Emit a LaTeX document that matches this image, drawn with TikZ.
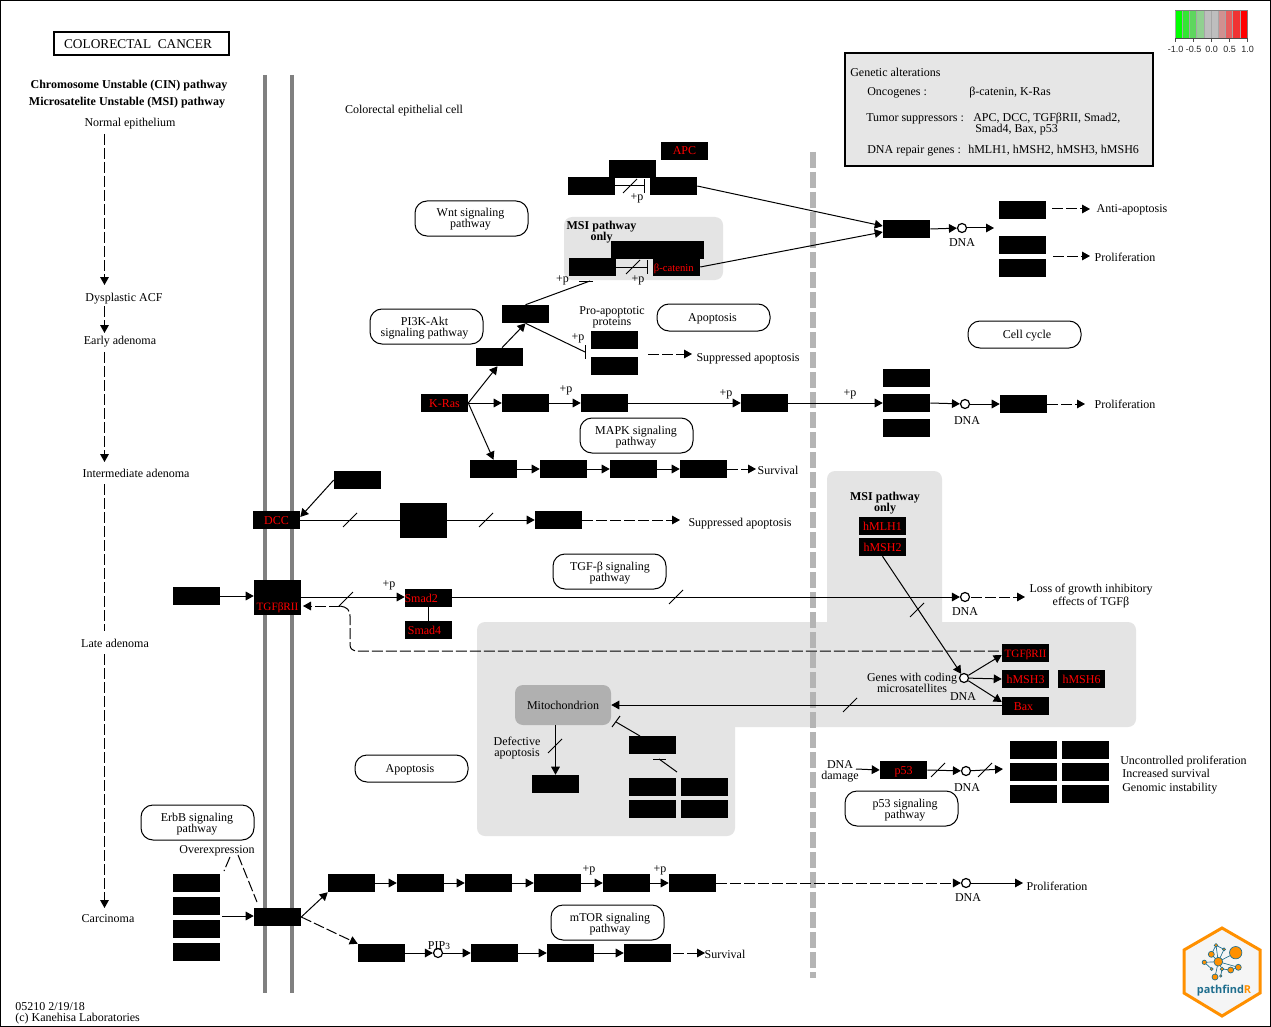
\documentclass[tikz,border=0pt]{standalone}
\usepackage{fontspec}
\setmainfont{Liberation Serif}
\newfontfamily\hvsans{Liberation Sans}
\newfontfamily\logofont{Open Sans}
\usetikzlibrary{arrows.meta,calc}
\definecolor{regiongray}{HTML}{E4E4E4}
\definecolor{legendgray}{HTML}{E6E6E6}
\definecolor{membrane}{HTML}{808080}
\definecolor{nucleus}{HTML}{B4B4B4}
\definecolor{mito}{HTML}{B0B0B0}
\definecolor{logoorange}{HTML}{FF9000}
\definecolor{logoblue}{HTML}{1F6E8E}
\tikzset{
 gn/.style={rectangle,fill=black,text=red,minimum width=35.25pt,minimum height=13.5pt,inner sep=0pt,text height=6pt,text depth=0pt,font=\fontsize{9}{8.25}\selectfont},
 gntall/.style={gn,minimum height=26.25pt},
 lbl/.style={inner sep=0pt,align=center,text height=6pt,text depth=0pt,font=\fontsize{9}{8.25}\selectfont},
 lbll/.style={lbl,anchor=west,align=left},
 blbl/.style={lbl,font=\bfseries\fontsize{9}{8.25}\selectfont},
 ovalbox/.style={rectangle,draw=black,fill=white,line width=.75pt,rounded corners=9pt,minimum width=84.75pt,inner sep=0pt},
 cir/.style={circle,draw=black,fill=white,line width=.9pt,minimum size=6.75pt,inner sep=0pt},
 arr/.style={line width=.75pt,-{Triangle[length=6pt,width=6.5pt]}},
 darr/.style={arr,dash pattern=on 8.25pt off 2.25pt},
 ln/.style={line width=.75pt},
 dln/.style={ln,dash pattern=on 8.25pt off 2.25pt},
 inh/.style={line width=.75pt,-{Bar[width=10.5pt,length=.75pt]}},
 slash/.style={line width=.6pt},
 region/.style={fill=regiongray,rounded corners=6pt},
}
\newcommand{\bx}[4]{\node[gn] (#1) at (#2,#3) {#4};}
\newcommand{\lb}[4]{\node[lbl] (#1) at (#2,#3) {#4};}
\newcommand{\lbw}[4]{\node[lbll] (#1) at (#2,#3) {#4};}
\newcommand{\ov}[6]{\node[ovalbox,minimum height=#4*.75pt] (#1) at (#2,#3) {};\node[lbl] (#1t) at (#5,#3) {#6};}
\newcommand{\ovv}[6]{\node[ovalbox,minimum height=#4*.75pt] (#1) at (#2,#3) {};\node[lbl] (#1t) at (#5,#3+5.5) {#6};}
\newcommand{\slmk}[2]{\draw[slash] (#1-7,#2+7) -- (#1+7,#2-7);}
\begin{document}
\begin{tikzpicture}[x=.75pt,y=-.75pt]
\useasboundingbox (0,0) rectangle (1271,1027);
\fill[white] (0,0) rectangle (1271,1027);
\draw[line width=.75pt] (.5,.5) rectangle (1270.5,1026.5);
% regions
\fill[region] (564,217) rectangle (723,280);
\fill[region] (827,471) rectangle (942,650);
\fill[region] (477,622) rectangle (1136,727);
\fill[region] (477,690) rectangle (735,836);
% membranes
\draw[membrane,line width=3.2pt] (265,75) -- (265,993);
\draw[membrane,line width=3.2pt] (292,75) -- (292,993);
\draw[nucleus,line width=4.5pt,dash pattern=on 12pt off 3pt] (813,152) -- (813,978);
% title
\node[rectangle,draw,line width=1.5pt,minimum width=131.25pt,minimum height=17.25pt,inner sep=0pt,font=\fontsize{10}{10}\selectfont] (title) at (141,44) {\hspace*{-4.5pt}COLORECTAL\ \ CANCER};
\node[blbl] (cin) at (129,85) {Chromosome Unstable (CIN) pathway};
\node[blbl] (msi) at (127,102) {Microsatelite Unstable (MSI) pathway};
\lb{cell}{404}{110}{Colorectal epithelial cell}
% left stages
\lb{s1}{130}{123}{Normal epithelium}
\lb{s2}{124}{297}{Dysplastic ACF}
\lb{s3}{120}{340}{Early adenoma}
\lb{s4}{136}{473}{Intermediate adenoma}
\lb{s5}{115}{643}{Late adenoma}
\lb{s6}{108}{918}{Carcinoma}
\coordinate (a1) at (104.5,134); \coordinate (a2) at (104.5,285);
\coordinate (a3) at (104.5,306); \coordinate (a4) at (104.5,333);
\coordinate (a5) at (104.5,352); \coordinate (a6) at (104.5,462);
\coordinate (a7) at (104.5,484); \coordinate (a8) at (104.5,631);
\coordinate (a9) at (104.5,654); \coordinate (a10) at (104.5,908);
\draw[darr] (a1) -- (a2);
\draw[darr] (a3) -- (a4);
\draw[darr] (a5) -- (a6);
\draw[dln] (a7) -- (a8);
\draw[darr] (a9) -- (a10);
% legend
\node[rectangle,draw,fill=legendgray,line width=1.5pt,minimum width=231pt,minimum height=84.75pt,inner sep=0pt] (legend) at (999,109.5) {};
\lbw{g1}{850}{73}{Genetic alterations}
\lbw{g2}{867}{92}{Oncogenes :}
\lbw{g3}{969}{92}{β-catenin, K-Ras}
\lbw{g4}{866}{118}{Tumor suppressors :}
\lbw{g5}{973}{118}{APC, DCC, TGFβRII, Smad2,}
\lbw{g6}{975}{129}{Smad4, Bax, p53}
\lbw{g7}{867}{150}{DNA repair genes :}
\lbw{g8}{968}{150}{hMLH1, hMSH2, hMSH3, hMSH6}
% pathway boxes
\ovv{wnt}{471.5}{218.5}{35}{470.5}{Wnt signaling\\pathway}
\ovv{pi3k}{426.5}{326.5}{35}{424.5}{PI3K-Akt\\signaling pathway}
\ov{apo1}{713.5}{317.5}{27}{712.5}{Apoptosis}
\ov{cc}{1024.5}{334.5}{27}{1027}{Cell cycle}
\ovv{mapk}{636.5}{435.5}{35}{636}{MAPK signaling\\pathway}
\ovv{tgfp}{609.5}{571.5}{35}{610}{TGF-β signaling\\pathway}
\ov{apo2}{411.5}{768.5}{27}{410}{Apoptosis}
\ovv{erbb}{197.5}{822.5}{35}{197}{ErbB signaling\\pathway}
\ovv{p53p}{901.5}{808.5}{35}{905}{p53 signaling\\pathway}
\ovv{mtor}{607.5}{922.5}{35}{610}{mTOR signaling\\pathway}
% upper genes
\bx{apc}{684.5}{151}{APC}
\bx{u1}{632.5}{169}{}
\bx{u2}{591.5}{186}{}
\bx{u3}{673.5}{186}{}
\node[blbl] (msi1) at (601.5,236) {MSI pathway\\only};
\bx{m1}{634.5}{250}{}
\bx{m2}{680.5}{250}{}
\bx{m3}{592.5}{267}{}
\bx{bcat}{676.5}{267}{\hspace*{-4pt}{\fontsize{8}{8}\selectfont β-catenin}}
\bx{w1}{906.5}{229}{}
\node[cir] (d1) at (962,228) {};
\lb{dna1}{962}{243}{DNA}
\bx{r1}{1022.5}{210}{}
\bx{r2}{1022.5}{245}{}
\bx{r3}{1022.5}{268}{}
\lb{antia}{1132}{209}{Anti-apoptosis}
\lb{prol1}{1125}{258}{Proliferation}
\coordinate (b1) at (1052,209); \coordinate (b2) at (1090,209);
\coordinate (b3) at (1053,256); \coordinate (b4) at (1090,256);
\coordinate (b0) at (645,186);
\draw[inh] (u2.east) -- (b0);
\slmk{630}{186}
\lb{p1}{637}{196}{+p}
\draw[inh] (m3.east) -- ($(bcat.west)+(-5,0)$);
\slmk{633}{267}
\lb{p2}{638}{278}{+p}
\draw[arr] (u3.east) -- ($(w1.west)+(0,-3)$);
\draw[arr] (bcat.east) -- ($(w1.west)+(0,3)$);
\draw[arr] (w1.east) -- (d1);
\coordinate (b5) at (994,228);
\draw[arr] (d1) -- (b5);
\draw[darr] (b1) -- (b2);
\draw[darr] (b3) -- (b4);
% PI3K branch
\bx{k1}{525.5}{314}{}
\bx{k2}{499.5}{357}{}
\bx{pa1}{614.5}{340}{}
\bx{pa2}{614.5}{366}{}
\lb{pap}{612}{321}{Pro-apoptotic\\proteins}
\lb{p3}{562.5}{278}{+p}
\lb{p4}{578}{336}{+p}
\lb{sa1}{748}{357}{Suppressed apoptosis}
\coordinate (c1) at (590,281);
\coordinate (c2) at (585,352);
\draw[ln] (k1.north) -- (c1);
\draw[ln] (579,281) -- (593,281);
\draw[ln] (k1.south) -- (c2);
\draw[ln] (585,345) -- (585,359);
\draw[arr] ($(k2.north)+(2.5,0)$) -- (k1.south);
\coordinate (c3) at (648,354); \coordinate (c4) at (692,354);
\draw[darr] (c3) -- (c4);
% K-Ras row
\bx{kras}{444.5}{403}{K-Ras}
\bx{k3}{525.5}{403}{}
\bx{k4}{604.5}{403}{}
\bx{k5}{764.5}{403}{}
\bx{n1}{906.5}{378}{}
\bx{n2}{906.5}{403}{}
\bx{n3}{906.5}{428}{}
\node[cir] (d2) at (965,404) {};
\lb{dna2}{967}{420}{DNA}
\bx{n4}{1023.5}{404}{}
\lb{prol2}{1125}{404}{Proliferation}
\lb{p5}{566}{388}{+p}
\lb{p6}{726}{392}{+p}
\lb{p7}{850}{392}{+p}
\coordinate (c5) at (1047,404); \coordinate (c6) at (1085,404);
\draw[arr] (kras.east) -- ($(k2.south)+(-2,0)$);
\draw[arr] (kras.east) -- (k3.west);
\draw[arr] (k3.east) -- (k4.west);
\draw[arr] (k4.east) -- (k5.west);
\draw[arr] (k5.east) -- (n2.west);
\draw[arr] (n2.east) -- (d2);
\draw[arr] (d2) -- (n4.west);
\draw[darr] (c5) -- (c6);
\bx{q1}{493.5}{469}{}
\bx{q2}{563.5}{469}{}
\bx{q3}{633.5}{469}{}
\bx{q4}{703.5}{469}{}
\lb{surv1}{778}{470}{Survival}
\coordinate (c7) at (727,469); \coordinate (c8) at (756,469);
\draw[arr] (kras.east) -- (q1.north);
\draw[arr] (q1.east) -- (q2.west);
\draw[arr] (q2.east) -- (q3.west);
\draw[arr] (q3.east) -- (q4.west);
\draw[darr] (c7) -- (c8);
% DCC
\bx{dcc}{276.5}{520}{DCC}
\bx{dc1}{357.5}{480}{}
\node[gntall] (dc2) at (423.5,520.5) {};
\bx{dc3}{558.5}{520}{}
\lb{sa2}{740}{522}{Suppressed apoptosis}
\coordinate (e1) at (582,520); \coordinate (e2) at (680,520);
\draw[arr] (dc1.west) -- ($(dcc.east)+(0,-3)$);
\draw[ln] (dcc.east) -- (dc2.west |- dcc.east);
\draw[arr] (dc2.east |- dc3.west) -- (dc3.west);
\draw[darr] (e1) -- (e2);
\slmk{350}{520}
\slmk{486}{520}
% TGFb
\node[gntall] (tgf) at (277.5,597.5) {};
\node[gn,fill=none] (tgft) at (277.5,606) {{\fontsize{8.4}{8}\selectfont TGFβRII}};
\bx{tg0}{196.5}{596}{}
\bx{smad2}{428.5}{598}{\hspace*{-11pt}Smad2}
\bx{smad4}{428.5}{630}{\hspace*{-6pt}Smad4}
\node[cir] (d3) at (965,597) {};
\lb{dna3}{965}{611}{DNA}
\lb{p8}{389}{583}{+p}
\lb{lossg}{1091}{601}{Loss of growth inhibitory\\effects of TGFβ}
\coordinate (f1) at (971,597); \coordinate (f2) at (1025,597);
\draw[arr] (tg0.east) -- (tgf.west |- tg0.east);
\draw[arr] (tgf.east |- d3) -- (smad2.west |- d3);
\draw[ln] (smad2.south) -- (smad4.north);
\draw[arr] (smad2.east |- d3) -- (d3);
\draw[darr] (f1) -- (f2);
\slmk{346}{599}
\slmk{676}{597}
% MSI block
\node[blbl] (msi2) at (885,507) {MSI pathway\\only};
\bx{mlh1}{882.5}{526}{hMLH1}
\bx{msh2}{882.5}{547}{hMSH2}
\node[cir] (d4) at (964,678) {};
\lb{dna4}{963}{696}{DNA}
\lb{gwc}{912}{688}{Genes with coding\\microsatellites}
\bx{tgf2}{1025.5}{653}{{\fontsize{8.4}{8}\selectfont TGFβRII}}
\bx{msh3}{1025.5}{679}{hMSH3}
\bx{msh6}{1081.5}{679}{hMSH6}
\bx{bax}{1025.5}{706}{\hspace*{-3pt}Bax}
\draw[arr] (msh2.south) -- (d4);
\slmk{917}{610}
\draw[arr] (d4) -- ($(tgf2.west)+(0,2)$);
\draw[arr] (d4) -- (msh3.west);
\draw[arr] (d4) -- ($(bax.west)+(0,-4)$);
% feedback dashed
\coordinate (f3) at (340,606);
\coordinate (f4) at (303,606);
\coordinate (f5) at (350,645);
\coordinate (f6) at (1002,651);
\draw[darr] (f3) -- (f4);
\draw[dln] (f3) .. controls (347,607) and (350,610) .. (350,616) -- (f5) .. controls (350,649) and (353,651) .. (358,651) -- (f6);
% Mitochondrion
\node[rectangle,fill=mito,rounded corners=6pt,minimum width=72pt,minimum height=30pt,inner sep=0pt,text height=6pt,text depth=0pt,font=\fontsize{9}{8.25}\selectfont] (mit) at (563,705) {Mitochondrion};
\coordinate (bax1) at (1002,705);
\draw[arr] (bax1) -- (bax1 -| mit.east);
\slmk{850}{705}
\bx{da}{555.5}{784}{}
\bx{h1}{652.5}{745}{}
\bx{h2}{652.5}{787}{}
\bx{h3}{704.5}{787}{}
\bx{h4}{652.5}{809}{}
\bx{h5}{704.5}{809}{}
\lb{dapo}{517}{752}{Defective\\apoptosis}
\draw[arr] (mit.south -| da.north) -- (da.north);
\slmk{555}{746}
\coordinate (g1p) at (640,736); \coordinate (g2p) at (616,722);
\draw[ln] (g1p) -- (g2p);
\draw[ln] (612,727) -- (620,716);
\coordinate (g3p) at (677,772); \coordinate (g4p) at (659,759);
\draw[ln] (g3p) -- (g4p);
\draw[ln] (653,759.5) -- (666,759.5);
% p53
\bx{p53}{903.5}{770}{p53}
\lb{dnad}{840}{775}{DNA\\damage}
\coordinate (j0) at (856,769);
\draw[arr] (j0) -- (p53.west);
\node[cir] (d5) at (966,771) {};
\lb{dna5}{967}{787}{DNA}
\draw[arr] (p53.east) -- (d5);
\slmk{938}{770}
\coordinate (j1) at (1003,769);
\draw[arr] (d5) -- (j1);
\slmk{985}{770}
\bx{t1}{1033.5}{750}{}
\bx{t2}{1085.5}{750}{}
\bx{t3}{1033.5}{772}{}
\bx{t4}{1085.5}{772}{}
\bx{t5}{1033.5}{794}{}
\bx{t6}{1085.5}{794}{}
\lbw{up}{1120}{760}{Uncontrolled proliferation}
\lbw{is}{1122}{773}{Increased survival}
\lbw{gi}{1122}{787}{Genomic instability}
% bottom
\bx{e1b}{196.5}{883}{}
\bx{e2b}{196.5}{906}{}
\bx{e3b}{196.5}{929}{}
\bx{e4b}{196.5}{952}{}
\bx{ebr}{277.5}{917}{}
\lb{over}{217}{849}{Overexpression}
\coordinate (k0) at (222,916);
\draw[arr] (k0) -- (ebr.west |- k0);
\coordinate (k1a) at (230,857); \coordinate (k2a) at (224,871);
\coordinate (k3a) at (238,855); \coordinate (k4a) at (257,902);
\draw[dln] (k1a) -- (k2a);
\draw[dln] (k3a) -- (k4a);
\bx{v1}{351.5}{883}{}
\bx{v2}{420.5}{883}{}
\bx{v3}{488.5}{883}{}
\bx{v4}{557.5}{883}{}
\bx{v5}{626.5}{883}{}
\bx{v6}{692.5}{883}{}
\lb{p9}{589}{868}{+p}
\lb{p10}{660}{868}{+p}
\node[cir] (d6) at (966,883) {};
\lb{dna6}{968}{897}{DNA}
\lb{prol3}{1057}{886}{Proliferation}
\coordinate (k5a) at (1023,883);
\draw[arr] (ebr.east) -- (v1.south west);
\draw[arr] (v1.east) -- (v2.west);
\draw[arr] (v2.east) -- (v3.west);
\draw[arr] (v3.east) -- (v4.west);
\draw[arr] (v4.east) -- (v5.west);
\draw[arr] (v5.east) -- (v6.west);
\draw[darr] (v6.east) -- (d6);
\draw[arr] (d6) -- (k5a);
\bx{y1}{381.5}{953}{}
\node[cir] (d7) at (438,953) {};
\node[lbl] (pip) at (439,945) {PIP{\fontsize{7}{7}\selectfont 3}};
\bx{y2}{494.5}{953}{}
\bx{y3}{570.5}{953}{}
\bx{y4}{647.5}{953}{}
\lb{surv2}{725}{954}{Survival}
\coordinate (k6a) at (673,953); \coordinate (k7a) at (705,953);
\draw[darr] (ebr.east) -- (y1.north west);
\draw[arr] (y1.east) -- (d7);
\draw[arr] (d7) -- (y2.west);
\draw[arr] (y2.east) -- (y3.west);
\draw[arr] (y3.east) -- (y4.west);
\draw[darr] (k6a) -- (k7a);
% footer
\lbw{foot1}{15}{1006}{05210 2/19/18}
\lbw{foot2}{15}{1017}{(c) Kanehisa Laboratories}
% colour bar
\foreach \i/\cc in {0/00FF00,1/33E633,2/5ED65E,3/90D090,4/BEBEBE,5/BEBEBE,6/D09090,7/E65E5E,8/F03333,9/FF0000}{
 \definecolor{cbc}{HTML}{\cc}
 \fill[cbc] (1175+\i*7.2,10) rectangle (1175+\i*7.2+7.2,38);
 \draw[black!35,line width=.4pt] (1175+\i*7.2,10) -- (1175+\i*7.2,38);
}
\draw[black!50,line width=.5pt] (1175,10) -- (1247,10) -- (1247,38);
\draw[black!70,line width=.5pt] (1175,38) -- (1247,38);
\foreach \x/\t in {1175/-1.0,1193/-0.5,1211/0.0,1229/0.5,1247/1.0}{
 \draw[black!70,line width=.5pt] (\x,38) -- (\x,42);
 \node[inner sep=0pt,font=\hvsans\fontsize{6.75}{7}\selectfont,text=black!85] at (\x+.5,49) {\t};
}
% logo
\draw[logoorange,fill=black!4,line width=2.25pt,line join=miter] (1222,928) -- (1260,950) -- (1260,993) -- (1222,1016) -- (1184,993) -- (1184,950) -- cycle;
\draw[logoblue,line width=.5pt] (1218.3,961.7) -- (1235.7,952.7) (1218.3,961.7) -- (1211.3,954.3) (1218.3,961.7) -- (1216,945.3) (1216,945.3) -- (1224,949.3) (1224,949.3) -- (1218.3,961.7) (1216,945.3) -- (1211.3,954.3) (1218.3,961.7) -- (1204.3,962.3) (1204.3,962.3) -- (1211.7,969) (1218.3,961.7) -- (1215,977) (1218.3,961.7) -- (1222,969) (1222,969) -- (1230.7,970) (1230.7,970) -- (1238.3,967.3) (1222,969) -- (1220.7,976) (1218.3,961.7) -- (1238.3,967.3);
\foreach \x/\y/\r in {1235.7/952.7/6.2,1218.3/961.7/4.4,1211.3/954.3/3,1216/945.3/1.8,1224/949.3/1.5,1204.3/962.3/2.2,1211.7/969/1.5,1215/977/3,1222/969/1.8,1230.7/970/3,1238.3/967.3/3,1220.7/976/1.2}{
 \fill[logoorange,draw=logoblue,line width=.5pt] (\x,\y) circle[radius=\r*.75pt];
}
\node[inner sep=0pt,font=\logofont\bfseries\fontsize{8.2}{8.2}\selectfont,text=logoblue] (logo) at (1224,991) {pathfind\textcolor{logoorange}{R}};
\end{tikzpicture}
\end{document}
